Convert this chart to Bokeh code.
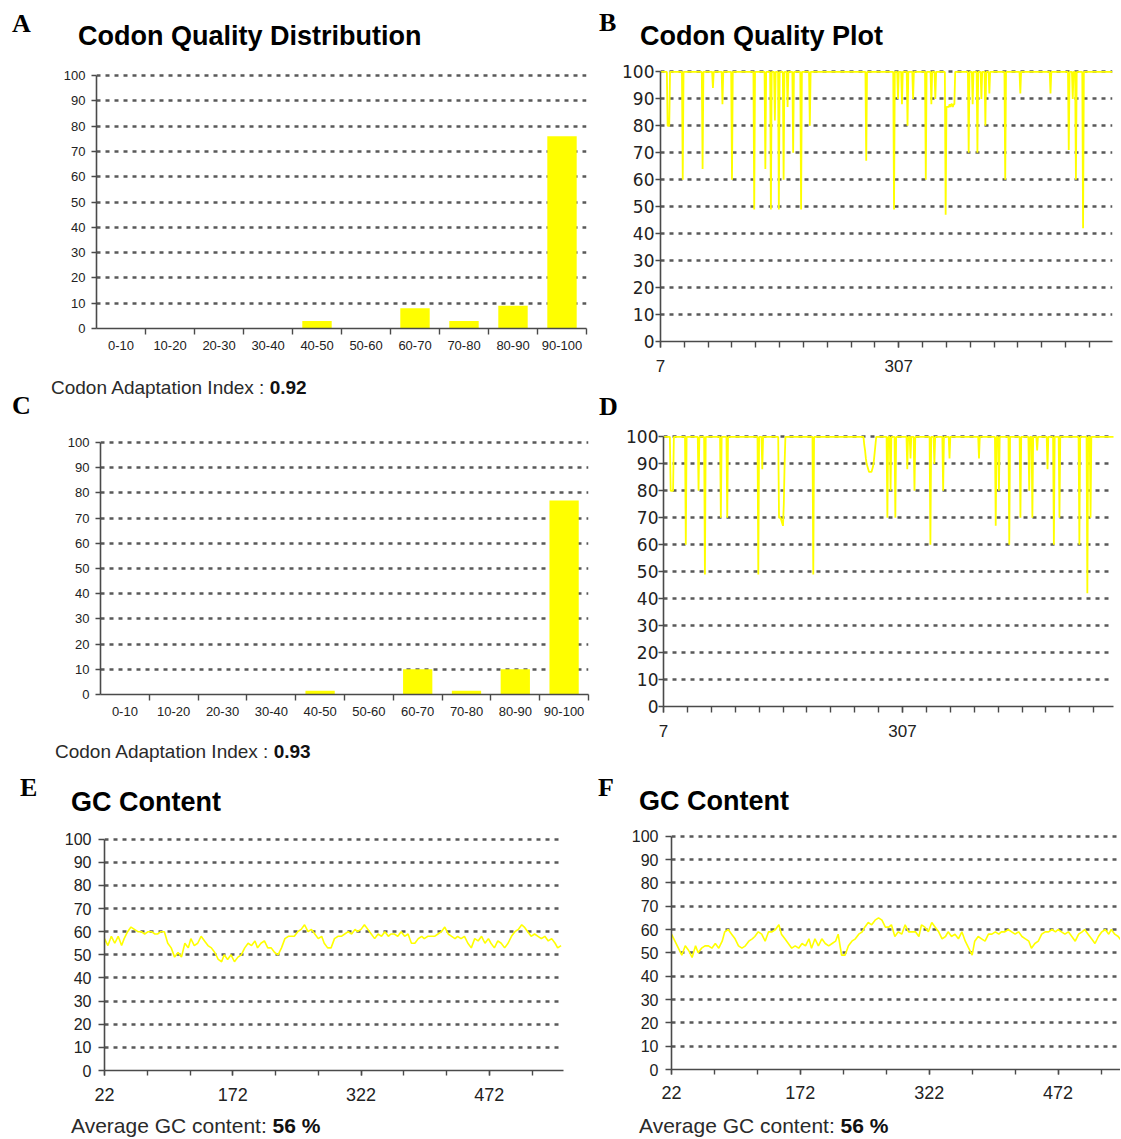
from bokeh.plotting import figure
from bokeh.models import Range1d, FixedTicker, Div
from bokeh.layouts import column, row
from bokeh.embed import file_html
from bokeh.resources import INLINE

# ------------------------------------------------------------------ data
BINS = ["0-10", "10-20", "20-30", "30-40", "40-50", "50-60",
        "60-70", "70-80", "80-90", "90-100"]
A_PCT = [0, 0, 0, 0, 3, 0, 8, 3, 9, 76]
C_PCT = [0, 0, 0, 0, 1.5, 0, 10, 1.5, 10, 77]
CAI_A = "0.92"
CAI_C = "0.93"

CODON_FIRST = 7
CODON_LAST = 576
QUALITY_TICKS = [7, 37, 67, 97, 127, 157, 187, 217, 247, 277, 307, 337, 367,
                 397, 427, 457, 487, 517, 547]
QUALITY_LABELLED = [7, 307]

B_DIP_POS = [16, 17, 18, 35, 60, 73, 85, 97, 125, 139, 146, 151, 156, 162, 167,
             174, 184, 195, 266, 301, 306, 311, 318, 325, 341, 348, 353, 366,
             367, 368, 369, 370, 371, 372, 373, 374, 375, 376, 377,
             395, 400, 406, 411, 416, 421, 441, 460, 498, 521, 526, 530, 539]
B_DIP_VAL = [80, 80, 80, 60, 64, 94, 88, 60, 49, 64, 49, 82, 49, 60, 87,
             70, 49, 80, 67, 49, 90, 88, 80, 90, 60, 88, 90, 47,
             87, 87, 87, 87, 88, 87, 88, 88, 87, 88, 88,
             70, 88, 70, 90, 80, 92, 60, 92, 92, 71, 90, 60, 42]

D_DIP_POS = [16, 17, 18, 19, 35, 51, 59, 79, 87, 126, 131,
             152, 153, 154, 155, 156, 157, 158, 159, 195,
             259, 260, 261, 262, 263, 264, 265, 266, 267, 268, 269, 270, 271, 272, 273,
             288, 292, 298, 313, 317, 322, 342, 347, 358, 366,
             403, 424, 428, 441, 455, 466, 470, 476, 489, 497, 504, 529, 539, 543]
D_DIP_VAL = [80, 80, 80, 80, 60, 80, 49, 70, 70, 49, 88,
             70, 70, 70, 69, 68, 67, 75, 90, 49,
             97, 95, 92, 90, 89, 88, 87, 87, 87, 87, 88, 89, 91, 94, 97,
             70, 80, 70, 88, 92, 80, 60, 90, 80, 92,
             92, 67, 80, 60, 70, 80, 70, 95, 88, 60, 70, 60, 42, 70]

GC_TICKS = [22, 72, 122, 172, 222, 272, 322, 372, 422, 472, 522]
GC_LABELLED = [22, 172, 322, 472]

E_POS = [22, 26, 30, 34, 38, 42, 45, 49, 53, 57, 61, 65, 69, 73, 77, 81, 84, 88, 92, 96,
         100, 104, 108, 112, 116, 120, 123, 127, 131, 135, 139, 143, 147, 151, 155, 159,
         162, 166, 170, 174, 178, 182, 186, 190, 194, 198, 201, 205, 209, 213, 217, 221,
         225, 229, 233, 237, 240, 244, 248, 252, 256, 260, 264, 268, 272, 276, 279, 283,
         287, 291, 295, 299, 303, 307, 311, 315, 318, 322, 326, 330, 334, 338, 342, 346,
         350, 354, 357, 361, 365, 369, 373, 377, 381, 385, 389, 393, 396, 400, 404, 408,
         412, 416, 420, 424, 428, 432, 435, 439, 443, 447, 451, 455, 459, 463, 467, 471,
         474, 478, 482, 486, 490, 494, 498, 502, 506, 510, 513, 517, 521, 525, 529, 533,
         537, 541, 545, 549, 552, 556]
E_GC = [57, 54, 58, 55, 58, 54, 57, 60, 62, 61,
        60, 60, 59, 60, 60, 59, 59, 60, 60, 55,
        53, 49, 51, 49, 55, 53, 57, 54, 55, 58,
        56, 54, 53, 51, 48, 47, 50, 48, 50, 47,
        49, 50, 53, 55, 54, 56, 53, 55, 56, 53,
        53, 51, 50, 53, 57, 58, 58, 58, 60, 61,
        63, 60, 61, 59, 57, 58, 55, 53, 53, 57,
        58, 58, 59, 60, 59, 61, 60, 61, 63, 61,
        59, 57, 59, 58, 60, 58, 59, 59, 58, 60,
        58, 59, 55, 55, 57, 58, 57, 58, 58, 58,
        59, 60, 62, 59, 58, 57, 58, 57, 58, 55,
        53, 57, 56, 58, 55, 57, 55, 53, 56, 55,
        53, 55, 58, 60, 61, 63, 62, 60, 58, 59,
        58, 57, 58, 56, 57, 55, 53, 54]

F_POS = [22, 26, 30, 34, 38, 42, 46, 50, 53, 57, 61, 65, 69, 73, 77, 81, 84, 88, 92, 96,
         100, 104, 108, 112, 116, 119, 123, 127, 131, 135, 139, 143, 147, 150, 154, 158,
         162, 166, 170, 174, 178, 182, 185, 189, 193, 197, 201, 205, 209, 213, 216, 220,
         224, 228, 232, 236, 240, 244, 247, 251, 255, 259, 263, 267, 271, 275, 278, 282,
         286, 290, 294, 298, 302, 306, 310, 313, 317, 321, 325, 329, 333, 337, 341, 344,
         348, 352, 356, 360, 364, 368, 372, 375, 379, 383, 387, 391, 395, 399, 403, 406,
         410, 414, 418, 422, 426, 430, 434, 438, 441, 445, 449, 453, 457, 461, 465, 469,
         472, 476, 480, 484, 488, 492, 496, 500, 503, 507, 511, 515, 519, 523, 527, 531,
         534, 538, 542, 546]
F_GC = [58, 55, 52, 49, 53, 51, 48, 53, 50, 52,
        53, 53, 52, 54, 52, 55, 59, 60, 58, 56,
        53, 52, 53, 55, 56, 57, 59, 58, 55, 59,
        59, 60, 62, 58, 56, 54, 52, 53, 52, 54,
        53, 56, 52, 56, 53, 56, 54, 53, 54, 55,
        58, 49, 49, 53, 55, 56, 58, 59, 61, 63,
        62, 64, 65, 64, 61, 61, 62, 57, 59, 58,
        62, 59, 59, 59, 57, 62, 61, 59, 63, 61,
        59, 56, 57, 59, 57, 58, 56, 59, 55, 52,
        49, 55, 57, 56, 55, 58, 58, 59, 58, 59,
        59, 60, 59, 58, 59, 57, 56, 55, 52, 54,
        55, 58, 59, 59, 60, 59, 60, 59, 58, 59,
        57, 55, 58, 59, 60, 58, 56, 54, 57, 59,
        60, 58, 60, 58, 57, 55]
GC_AVG = "56 %"

# ------------------------------------------------------------------ style
SANS = "Liberation Sans"
SERIF = "Liberation Serif"
AXIS_C = "#4a4a4a"
GRID_C = "#595959"
TICK_TXT = "#222222"
YELLOW = "#ffff00"
PAGE_W = 1120

# panel geometry (page pixels): canvas origin, size and borders around the frame
GEO = {
    "A": dict(x0=0, y0=60, w=596, h=316, bl=96, br=10, bt=10, bb=48),
    "B": dict(x0=596, y0=60, w=524, h=316, bl=64, br=8, bt=6, bb=35),
    "C": dict(x0=0, y0=426, w=596, h=316, bl=100, br=8, bt=11, bb=48),
    "D": dict(x0=596, y0=426, w=524, h=316, bl=67, br=7, bt=5, bb=36),
    "E": dict(x0=0, y0=824, w=590, h=282, bl=104, br=27, bt=10, bb=36),
    "F": dict(x0=590, y0=824, w=530, h=282, bl=81, br=0, bt=7, bb=37),
}


def base_fig(g, x_range, ylab_font, ylab_size, ytick_out, ystandoff):
    p = figure(width=g["w"], height=g["h"], x_range=x_range, y_range=Range1d(0, 102),
               output_backend="svg", toolbar_location=None,
               min_border_left=g["bl"], min_border_right=g["br"],
               min_border_top=g["bt"], min_border_bottom=g["bb"])
    try:
        p.frame_align = False
    except Exception:
        pass
    p.outline_line_color = None
    p.background_fill_color = "white"
    p.border_fill_color = "white"
    p.xgrid.grid_line_color = None
    ya = p.yaxis[0]
    ya.ticker = FixedTicker(ticks=list(range(0, 101, 10)))
    ya.bounds = (0, 100)
    ya.axis_line_color = AXIS_C
    ya.axis_line_width = 1.6
    ya.major_tick_line_color = AXIS_C
    ya.major_tick_line_width = 1.4
    ya.major_tick_out = ytick_out
    ya.major_tick_in = 0
    ya.minor_tick_line_color = None
    ya.major_label_text_font = ylab_font
    ya.major_label_text_font_size = f"{ylab_size}px"
    ya.major_label_text_color = TICK_TXT
    ya.major_label_standoff = ystandoff
    gr = p.ygrid[0]
    gr.ticker = FixedTicker(ticks=list(range(10, 101, 10)))
    gr.grid_line_color = GRID_C
    gr.grid_line_width = 2.4
    gr.grid_line_dash = "4 5"
    return p


def style_xaxis(p, ticker, major_out, minor_out, size, standoff, overrides=None):
    xa = p.xaxis[0]
    xa.ticker = ticker
    xa.axis_line_color = AXIS_C
    xa.axis_line_width = 1.6
    xa.major_tick_line_color = AXIS_C
    xa.major_tick_line_width = 1.4
    xa.minor_tick_line_color = AXIS_C
    xa.minor_tick_line_width = 1.4
    xa.major_tick_out = major_out
    xa.major_tick_in = 0
    xa.minor_tick_out = minor_out
    xa.minor_tick_in = 0
    xa.major_label_text_font = SANS
    xa.major_label_text_font_size = f"{size}px"
    xa.major_label_text_color = TICK_TXT
    xa.major_label_standoff = standoff
    if overrides:
        xa.major_label_overrides = overrides


def distribution_panel(key, pct):
    g = GEO[key]
    n = len(BINS)
    p = base_fig(g, Range1d(0, n), SANS, 13, 5, 6)
    centers = [i + 0.5 for i in range(n)]
    p.vbar(x=centers, top=pct, width=0.6, bottom=0,
           fill_color=YELLOW, line_color=None)
    style_xaxis(p, FixedTicker(ticks=centers, minor_ticks=list(range(1, n + 1))),
                0, 6, 13, 6, {c: b for c, b in zip(centers, BINS)})
    return p


def quality_panel(key, dip_pos, dip_val, ystandoff, px_per_codon):
    g = GEO[key]
    frame_w = g["w"] - g["bl"] - g["br"]
    x_end = CODON_FIRST + frame_w / px_per_codon
    p = base_fig(g, Range1d(CODON_FIRST, x_end), "DejaVu Sans", 17, 5, ystandoff)
    codons = list(range(CODON_FIRST, CODON_LAST + 1))
    dips = dict(zip(dip_pos, dip_val))
    quality = [dips.get(c, 100) for c in codons]
    p.line(codons, quality, line_color=YELLOW, line_width=1.8)
    style_xaxis(p, FixedTicker(ticks=QUALITY_LABELLED, minor_ticks=QUALITY_TICKS),
                6, 6, 17, 12)
    return p


def gc_panel(key, pos, gc, px_per_unit, xstandoff):
    g = GEO[key]
    frame_w = g["w"] - g["bl"] - g["br"]
    x_end = GC_TICKS[0] + frame_w / px_per_unit
    p = base_fig(g, Range1d(GC_TICKS[0], x_end), SANS, 16, 6, 7)
    p.line(pos, gc, line_color=YELLOW, line_width=1.6)
    style_xaxis(p, FixedTicker(ticks=GC_LABELLED, minor_ticks=GC_TICKS),
                5, 5, 18, xstandoff)
    return p


# text strips: (html, x, baseline, size, bold, serif) in page pixels
def strip(y0, height, items):
    spans = []
    for html, x, base, size, bold, serif in items:
        asc = 0.8375 if serif else 0.8465
        top = base - y0 - asc * size
        fam = SERIF if serif else SANS
        weight = "bold" if bold else "normal"
        color = "#000000" if (bold or serif) else "#2a2a2a"
        spans.append(
            f'<span style="position:absolute;left:{x}px;top:{top:.1f}px;'
            f"font-family:'{fam}';font-size:{size}px;font-weight:{weight};"
            f'line-height:{size}px;white-space:nowrap;color:{color};">{html}</span>')
    inner = (f'<div style="position:relative;width:{PAGE_W}px;height:{height}px;'
             f'overflow:visible;">' + "".join(spans) + "</div>")
    return Div(text=inner, width=PAGE_W, height=height, margin=0)


def cai(v):
    return f'Codon Adaptation Index : <b style="color:#111111">{v}</b>'


def gc_avg(v):
    return f'Average GC content: <b style="color:#111111">{v}</b>'


# ------------------------------------------------------------------ panels
pA = distribution_panel("A", A_PCT)
pB = quality_panel("B", B_DIP_POS, B_DIP_VAL, 1, 0.7943)
pC = distribution_panel("C", C_PCT)
pD = quality_panel("D", D_DIP_POS, D_DIP_VAL, 0, 0.7967)
pE = gc_panel("E", E_POS, E_GC, 0.855, 12)
pF = gc_panel("F", F_POS, F_GC, 0.859, 11)

s1 = strip(0, 60, [
    ("A", 12, 33, 26, True, True),
    ("Codon Quality Distribution", 78, 46, 27, True, False),
    ("B", 599, 32, 26, True, True),
    ("Codon Quality Plot", 640, 46, 27, True, False),
])
s2 = strip(376, 50, [
    (cai(CAI_A), 51, 394, 19, False, False),
    ("C", 12, 415, 26, True, True),
    ("D", 599, 416, 26, True, True),
])
s3 = strip(742, 82, [
    (cai(CAI_C), 55, 758, 19, False, False),
    ("E", 20, 797, 26, True, True),
    ("GC Content", 71, 812, 27, True, False),
    ("F", 598, 797, 26, True, True),
    ("GC Content", 639, 811, 27, True, False),
])
s4 = strip(1106, 32, [
    (gc_avg(GC_AVG), 71, 1133, 21, False, False),
    (gc_avg(GC_AVG), 639, 1133, 21, False, False),
])

layout = column(s1, row(pA, pB), s2, row(pC, pD), s3, row(pE, pF), s4)

with open("out.html", "w") as fh:
    fh.write(file_html(layout, INLINE))
